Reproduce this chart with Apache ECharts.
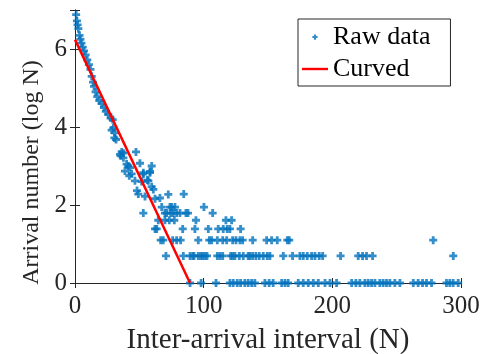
<!DOCTYPE html>
<html><head><meta charset="utf-8">
<script src="https://cdn.jsdelivr.net/npm/echarts@6/dist/echarts.min.js"></script>
<style>html,body{margin:0;padding:0;background:#fff}#c{width:494px;height:354px}</style>
</head><body><div id="c"></div>
<script>
// upper, continuous part of raw data: [interval, log N]
const rawUpper = [
 [0.9,6.88],[1.5,6.72],[2,6.62],[2.6,6.52],[3.5,6.35],[4.2,6.25],[5,6.15],[6,6.05],[7,5.95],[8.3,5.85],
 [9.5,5.72],[10.8,5.6],[12,5.48],[13,5.3],[14,5.15],[14.8,5.04],[16,4.9],[17.3,4.78],[18.9,4.68],[20.7,4.6],
 [22.5,4.5],[24,4.4],[25.9,4.32],[27.7,4.23],[29.3,4.19],[29.8,3.98],[28.5,3.92],[31.1,3.85],[30.6,3.72],[31.9,3.68],
 [35,3.3],[36.3,3.36],[37.6,3.33],[35.5,3.26],[37.6,3.21],[47.4,3.36],[40.1,3.05],[41.4,3.0],[42.7,2.96],[50.5,3.07],
 [59.6,3.0],[38.8,2.87],[44,2.8],[42.2,2.75],[58.3,2.86],[53.1,2.79],[46.6,2.62],[51.8,2.6],[57,2.62],[48.2,2.37],
 [49.2,2.28],[54.4,2.22],[59.6,2.47],[60.9,2.4],[72.5,2.27],[66,2.18],[62.2,2.16],[84.5,2.28],[56.2,2.64],[53.1,2.83],[58.3,2.83]
];
// discrete rows: log N values and the intervals at which they occur
const row7 = [67.4,73.8,75.1,77.7,100.2];
const row6 = [53.1,69.9,71.2,74.4,76.4,79,81.6,86.2,87.8,107];
const row5 = [64.7,69.9,73.3,77.2,94,117.3,121.7];
const row4 = [62.2,63.5,83.7,93.2,103.6,111.3,115.2,118.3,120.4,128.7];
const row3 = [66.6,68.6,75.9,79,82.1,95.8,104.4,106.2,110.6,114.8,117.9,122.5,125.1,128.2,130.3,138.1,148.9,152.8,157.2,165,166.5,278.4];
const row2 = [70.7,84.2,89.4,91.5,92.5,95.8,97.7,99.2,101,102.6,110.6,112.7,114.8,121,122.5,124.3,127.7,130.8,134.6,136,138.1,140.6,143.2,146.3,149.4,151.5,161.9,169.1,174.8,177.4,180.5,183.9,186.5,189.8,192.5,206.4,220.1,223.5,226.6,231.3,294];
const row1 = [89.4,98,109.6,120.4,123,126.1,128.7,132,134.6,137.3,139.8,147.6,150.9,154,160.6,163.2,165.7,173.5,177.4,181.3,185.2,189.1,194.3,198.2,203.3,215,218.3,221.4,225.3,227.9,230.5,233.1,236.9,239.5,242.1,244.7,248.6,252.5,262.9,266.7,270.1,273.2,277.1,288.7,291.3,293.9,297.8];
const fitLine = [[0,6.24],[89.4,0]];
const xTicks = [0,100,200,300];
const yTicks = [0,2,4,6];

const raw = rawUpper.slice();
[[row7,7],[row6,6],[row5,5],[row4,4],[row3,3],[row2,2],[row1,1]].forEach(([xs,n])=>{
  xs.forEach(x=>raw.push([x, Math.log(n)]));
});

const font = 'Liberation Serif, Times New Roman, serif';
const ax = '#262626';
const plus = 'path://M2.6,0H5.4V2.6H8V5.4H5.4V8H2.6V5.4H0V2.6H2.6Z';
const plusSmall = 'path://M0,0M16,16M6.8,5H9.2V6.8H11V9.2H9.2V11H6.8V9.2H5V6.8H6.8Z';
const chart = echarts.init(document.getElementById('c'));
chart.setOption({
  animation:false,
  grid:{left:75,right:33,top:10,bottom:71,containLabel:false,outerBoundsMode:'none'},
  legend:{
    left:298, top:19, orient:'vertical', padding:[5,20,4,4], itemGap:6,
    borderColor:ax, borderWidth:1, backgroundColor:'#fff',
    itemWidth:26, itemHeight:14,
    textStyle:{fontFamily:font,fontSize:26,color:'#000'},
    data:[{name:'Raw data',icon:plusSmall,itemStyle:{color:'#0072BD'}},
          {name:'Curved',icon:'path://M0,0H26V2.4H0Z',itemStyle:{color:'#FF0000'}}]
  },
  xAxis:[{
    type:'value',min:0,max:300,interval:100,
    name:'Inter-arrival interval (N)',nameLocation:'middle',nameGap:43,
    nameTextStyle:{fontFamily:font,fontSize:29,color:'#262626'},
    axisLine:{lineStyle:{color:ax,width:1}},
    axisTick:{inside:true,length:5,lineStyle:{color:ax}},
    axisLabel:{fontFamily:font,fontSize:25,color:'#262626',margin:11,formatter:v=>xTicks.includes(v)?String(v):''},
    splitLine:{show:false}
  },{
    type:'value',position:'top',min:0,max:300,interval:100,
    axisLine:{lineStyle:{color:ax,width:1}},
    axisTick:{inside:true,length:5,lineStyle:{color:ax}},
    axisLabel:{show:false},splitLine:{show:false}
  }],
  yAxis:[{
    type:'value',min:0,max:7,interval:2,
    name:'Arrival number (log N)    ',nameLocation:'middle',nameGap:12,
    nameTextStyle:{fontFamily:font,fontSize:24,color:'#262626',padding:[0,0,0,-28]},
    axisLine:{show:true,lineStyle:{color:ax,width:1}},
    axisTick:{show:true,inside:true,length:5,lineStyle:{color:ax}},
    axisLabel:{fontFamily:font,fontSize:25,color:'#262626',margin:8,formatter:v=>yTicks.includes(v)?String(v):''},
    splitLine:{show:false}
  },{
    type:'value',position:'right',min:0,max:7,interval:2,
    axisLine:{show:true,lineStyle:{color:ax,width:1}},
    axisTick:{show:true,inside:true,length:5,lineStyle:{color:ax}},
    axisLabel:{show:false},splitLine:{show:false}
  }],
  series:[
    {name:'Raw data',type:'scatter',data:raw,symbol:plus,symbolSize:8,
     itemStyle:{color:'#0072BD'},clip:false,z:2},
    {name:'Curved',type:'line',data:fitLine,showSymbol:false,symbol:'none',
     lineStyle:{color:'#FF0000',width:2.5},itemStyle:{color:'#FF0000'},z:3}
  ]
});
</script></body></html>
